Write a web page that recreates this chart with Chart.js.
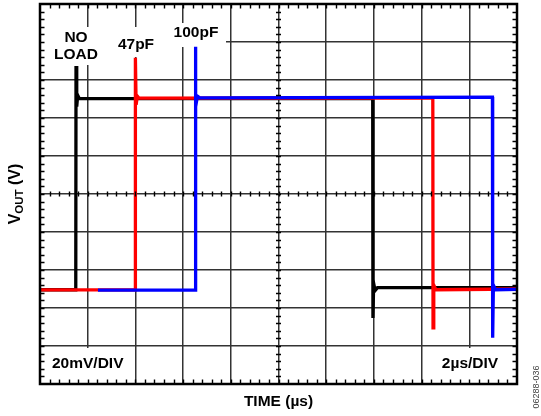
<!DOCTYPE html>
<html>
<head>
<meta charset="utf-8">
<script src="https://cdn.jsdelivr.net/npm/chart.js@4/dist/chart.umd.min.js"></script>
<style>
  html, body { margin: 0; padding: 0; background: #fff; }
  canvas { display: block; }
</style>
</head>
<body>
<canvas id="scope" width="541" height="416"></canvas>
<script>
// time in µs (2µs/DIV), output in mV (20mV/DIV)
const noLoad = [
  [0, 49.6], [1.50, 49.6], [1.51, 167.4], [1.54, 146], [1.58, 152], [1.65, 150.2],
  [13.95, 150.2], [13.96, 34.7], [13.99, 53], [14.05, 49.2], [14.15, 50.7], [20, 50.7]
];
const load47pF = [
  [0, 49.5], [3.99, 49.5], [4.0, 171.7], [4.03, 147], [4.08, 151.5], [4.15, 150.5],
  [16.47, 150.6], [16.48, 29.5], [16.51, 52], [16.6, 49.6], [20, 50]
];
const load100pF = [
  [2.43, 49.4], [6.50, 49.4], [6.51, 177.5], [6.54, 146], [6.6, 151.5], [6.7, 150.6],
  [18.97, 151.0], [18.98, 24.4], [19.01, 52], [19.1, 49.6], [20, 49.8]
];

const xRange = [0, 20], xStep = 2, xMinor = 0.4;
const yRange = [0, 200], yStep = 20, yMinor = 4;

const toPts = arr => arr.map(([x, y]) => ({ x, y }));
const FONT = '"Liberation Sans", Arial, Helvetica, sans-serif';

const scopeDecor = {
  id: 'scopeDecor',
  beforeDatasetsDraw(chart) {
    const { ctx } = chart;
    ctx.save();
    // label patches that hide the grid
    ctx.fillStyle = '#fff';
    ctx.fillRect(41, 36, 185, 11);
    ctx.fillRect(50, 27, 52, 38);
    ctx.fillRect(112, 27, 48, 30);
    ctx.fillRect(168, 23, 54, 22);
    ctx.fillRect(42, 348, 90, 35);
    ctx.fillRect(428, 348, 88, 35);

    ctx.fillStyle = '#000';
    ctx.font = 'bold 15.5px ' + FONT;
    ctx.textAlign = 'center';
    ctx.textBaseline = 'alphabetic';
    ctx.fillText('NO', 76, 41.5);
    ctx.fillText('LOAD', 76, 58.5);
    ctx.fillText('47pF', 136, 49);
    ctx.fillText('100pF', 196, 37);
    ctx.textAlign = 'left';
    ctx.fillText('20mV/DIV', 52, 368);
    ctx.textAlign = 'center';
    ctx.fillText('2µs/DIV', 470, 368);
    ctx.restore();
  },
  afterDraw(chart) {
    const { ctx, chartArea: a } = chart;
    const xs = chart.scales.x, ys = chart.scales.y;
    ctx.save();
    ctx.strokeStyle = '#000';
    ctx.lineWidth = 1.4;
    const xc = xs.getPixelForValue((xRange[0] + xRange[1]) / 2);
    const yc = ys.getPixelForValue((yRange[0] + yRange[1]) / 2);
    ctx.beginPath();
    for (let v = xRange[0] + xMinor; v < xRange[1] - 1e-6; v += xMinor) {
      const px = Math.round(xs.getPixelForValue(v)) + 0.5;
      ctx.moveTo(px, a.top); ctx.lineTo(px, a.top + 4.5);
      ctx.moveTo(px, a.bottom); ctx.lineTo(px, a.bottom - 4.5);
      ctx.moveTo(px, yc - 2.5); ctx.lineTo(px, yc + 2.5);
    }
    for (let v = yRange[0] + yMinor; v < yRange[1] - 1e-6; v += yMinor) {
      const py = Math.round(ys.getPixelForValue(v)) + 0.5;
      ctx.moveTo(a.left, py); ctx.lineTo(a.left + 4.5, py);
      ctx.moveTo(a.right, py); ctx.lineTo(a.right - 4.5, py);
      ctx.moveTo(xc - 2.5, py); ctx.lineTo(xc + 2.5, py);
    }
    ctx.stroke();

    // frame
    ctx.lineWidth = 2.5;
    ctx.strokeRect(a.left, a.top, a.right - a.left, a.bottom - a.top);

    // axis titles
    ctx.fillStyle = '#000';
    ctx.font = 'bold 15.5px ' + FONT;
    ctx.textAlign = 'center';
    ctx.fillText('TIME (µs)', (a.left + a.right) / 2, 406);

    ctx.save();
    ctx.translate(20, 194);
    ctx.rotate(-Math.PI / 2);
    ctx.textAlign = 'left';
    const big = 'bold 16px ' + FONT, small = 'bold 11.5px ' + FONT;
    ctx.font = big; const wV = ctx.measureText('V').width;
    ctx.font = small; const wO = ctx.measureText('OUT').width;
    ctx.font = big; const wR = ctx.measureText(' (V)').width;
    let x0 = -(wV + wO + wR) / 2;
    ctx.font = big; ctx.fillText('V', x0, 0); x0 += wV;
    ctx.font = small; ctx.fillText('OUT', x0, 3); x0 += wO;
    ctx.font = big; ctx.fillText(' (V)', x0, 0);
    ctx.restore();

    ctx.save();
    ctx.translate(539, 387);
    ctx.rotate(-Math.PI / 2);
    ctx.fillStyle = '#444';
    ctx.font = '9px ' + FONT;
    ctx.textAlign = 'center';
    ctx.fillText('06288-036', 0, 0);
    ctx.restore();

    ctx.restore();
  }
};

new Chart(document.getElementById('scope'), {
  type: 'line',
  data: {
    datasets: [
      { label: 'NO LOAD', data: toPts(noLoad), borderColor: '#000000', order: 3 },
      { label: '47pF', data: toPts(load47pF), borderColor: '#ff0000', order: 2 },
      { label: '100pF', data: toPts(load100pF), borderColor: '#0000ff', order: 1 }
    ]
  },
  options: {
    responsive: false,
    animation: false,
    devicePixelRatio: 1,
    layout: { padding: { left: 40, right: 24, top: 4, bottom: 32 } },
    elements: {
      line: { borderWidth: 3.3, tension: 0, borderJoinStyle: 'miter', borderCapStyle: 'butt' },
      point: { radius: 0 }
    },
    plugins: { legend: { display: false }, tooltip: { enabled: false } },
    scales: {
      x: {
        type: 'linear', min: xRange[0], max: xRange[1],
        ticks: { display: false, stepSize: xStep },
        grid: { color: '#333', lineWidth: 1.5, drawTicks: false },
        border: { display: false },
        afterFit: s => { s.height = 0; }
      },
      y: {
        type: 'linear', min: yRange[0], max: yRange[1],
        ticks: { display: false, stepSize: yStep },
        grid: { color: '#333', lineWidth: 1.5, drawTicks: false },
        border: { display: false },
        afterFit: s => { s.width = 0; }
      }
    }
  },
  plugins: [scopeDecor]
});
</script>
</body>
</html>
